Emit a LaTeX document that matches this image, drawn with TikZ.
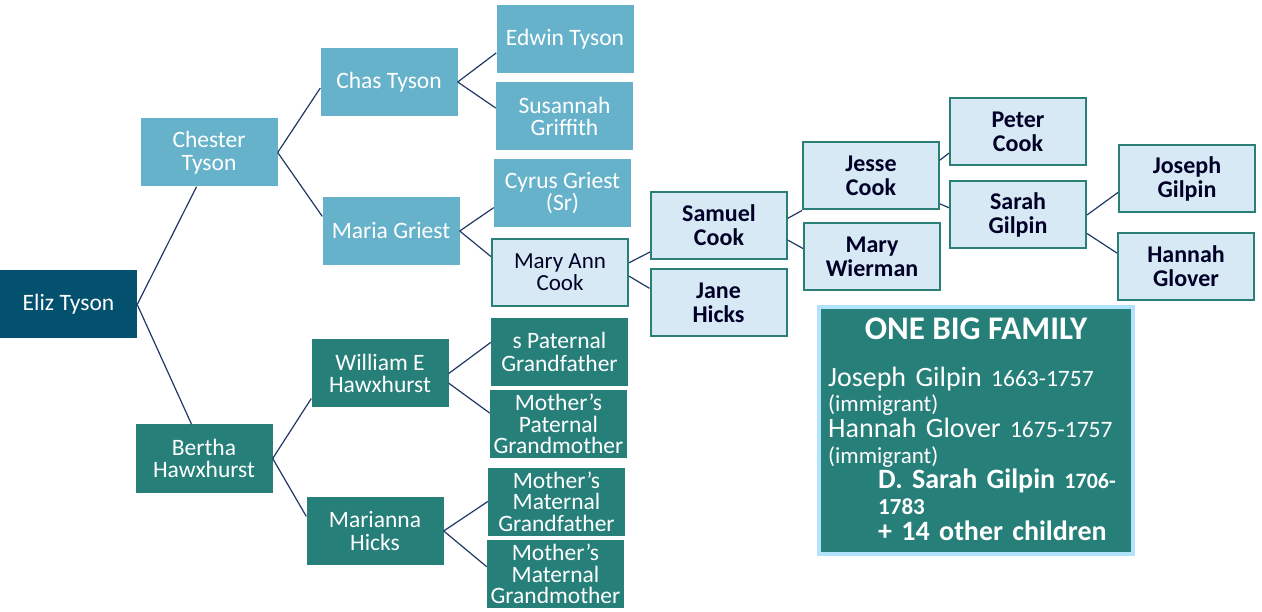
\documentclass[tikz,border=0pt]{standalone}
\usepackage{fontspec}
\setmainfont{Carlito}
\definecolor{elizblue}{HTML}{03506F}
\definecolor{skyblue}{HTML}{67B2CB}
\definecolor{tealgreen}{HTML}{267F79}
\definecolor{paleblue}{HTML}{D7E9F5}
\definecolor{paleedge}{HTML}{2A8077}
\definecolor{navyline}{HTML}{1F3864}
\definecolor{infoedge}{HTML}{B3E3FA}
\tikzset{
  person/.style={minimum width=137pt, minimum height=68pt, inner sep=1pt, align=center,
    text=white, font=\fontsize{23.5}{22.5}\selectfont},
  root/.style={person, fill=elizblue},
  tyson/.style={person, fill=skyblue},
  hawx/.style={person, fill=tealgreen},
  cook/.style={person, fill=paleblue, draw=paleedge, line width=2pt, text=black!85!blue,
    minimum width=136pt, minimum height=67pt, font=\fontsize{24}{24}\selectfont\bfseries},
  link/.style={draw=navyline, line width=1.2pt}
}
\begin{document}
\begin{tikzpicture}[x=1pt,y=-1pt]
    \useasboundingbox (0,0) rectangle (1262,612);

    % first generations
    \node[root] (eliz) at (68.5,304.5) {Eliz Tyson};
    \node[tyson] (chester) at (209,152.5) {Chester\\Tyson};
    \node[hawx] (bertha) at (204,458.5) {Bertha\\Hawxhurst};

    % tyson side
    \node[tyson] (chas) at (389,82) {Chas Tyson};
    \node[tyson] (maria) at (391,231) {Maria Griest};
    \node[tyson] (edwin) at (565,39.5) {Edwin Tyson};
    \node[tyson] (susannah) at (564.5,116.5) {Susannah\\Griffith};
    \node[tyson] (cyrus) at (562.5,193) {Cyrus Griest\\(Sr)};

    % hawxhurst side
    \node[hawx] (william) at (380,373.5) {William E\\Hawxhurst};
    \node[hawx] (marianna) at (375,531) {Marianna\\Hicks};
    \node[hawx] (patgf) at (559.5,352) {s Paternal\\Grandfather};
    \node[hawx, font=\fontsize{23.5}{21.5}\selectfont] (patgm) at (558.5,424) {Mother’s\\Paternal\\Grandmother};
    \node[hawx, font=\fontsize{23.5}{21.5}\selectfont] (matgf) at (556.5,501.5) {Mother’s\\Maternal\\Grandfather};
    \node[hawx, font=\fontsize{23.5}{21.5}\selectfont] (matgm) at (555.5,574) {Mother’s\\Maternal\\Grandmother};

    % cook and gilpin line
    \node[cook, font=\fontsize{23}{22}\selectfont] (maryann) at (560,272.5) {Mary Ann\\Cook};
    \node[cook] (samuel) at (719,225.5) {Samuel\\Cook};
    \node[cook] (jane) at (718.5,303) {Jane\\Hicks};
    \node[cook] (jesse) at (871,176) {Jesse\\Cook};
    \node[cook] (wierman) at (872,257) {Mary\\Wierman};
    \node[cook] (peter) at (1018,132) {Peter\\Cook};
    \node[cook] (sarah) at (1018,215) {Sarah\\Gilpin};
    \node[cook] (joseph) at (1187,179) {Joseph\\Gilpin};
    \node[cook] (hannah) at (1186,266.5) {Hannah\\Glover};

    % links
    \draw[link] (eliz.east) -- (chester.-110);
    \draw[link] (eliz.east) -- (bertha.110);
    \draw[link] (chester.east) -- (chas.185);
    \draw[link] (chester.east) -- (maria.168);
    \draw[link] (chas.east) -- (edwin.191);
    \draw[link] (chas.east) -- (susannah.173);
    \draw[link] (maria.east) -- (cyrus.192);
    \draw[link] (maria.east) -- (maryann.167);
    \draw[link] (bertha.east) -- (william.200);
    \draw[link] (bertha.east) -- (marianna.168);
    \draw[link] (william.east) -- (patgf.172);
    \draw[link] (william.-8) -- (patgm.171);
    \draw[link] (marianna.east) -- (matgf.west);
    \draw[link] (marianna.east) -- (matgm.174);
    \draw[link] (maryann.8) -- (samuel.201);
    \draw[link] (maryann.-3) -- (jane.168);
    \draw[link] (samuel.6) -- (jesse.south west);
    \draw[link] (samuel.-12) -- (wierman.173);
    \draw[link] (jesse.13) -- (peter.197);
    \draw[link] (jesse.-22) -- (sarah.174);
    \draw[link] (sarah.east) -- (joseph.191);
    \draw[link] (sarah.-15) -- (hannah.169);

    % one big family
    \draw[draw=infoedge, fill=tealgreen, line width=4pt] (819,307) rectangle (1133,554);
    \node[text=white, font=\fontsize{33}{34}\selectfont\bfseries] (infotitle) at (976,329) {ONE BIG FAMILY};
    \node[anchor=north west, inner sep=0pt, text width=305pt, align=left, text=white,
      font=\fontsize{28}{25.7}\selectfont] (infobody) at (828,366.5)
      {Joseph Gilpin {\fontsize{23.5}{20}\selectfont 1663-1757}\\
       {\fontsize{23}{20}\selectfont (immigrant)}\\
       Hannah Glover {\fontsize{23.5}{20}\selectfont 1675-1757}\\
       {\fontsize{23}{20}\selectfont (immigrant)}\\
       \hspace*{50pt}\textbf{D. Sarah Gilpin} {\fontsize{22}{20}\selectfont\bfseries 1706-}\\
       \hspace*{50pt}{\fontsize{23}{20}\selectfont\bfseries 1783}\\
       \hspace*{50pt}\textbf{+ 14 other children}};
\end{tikzpicture}
\end{document}
